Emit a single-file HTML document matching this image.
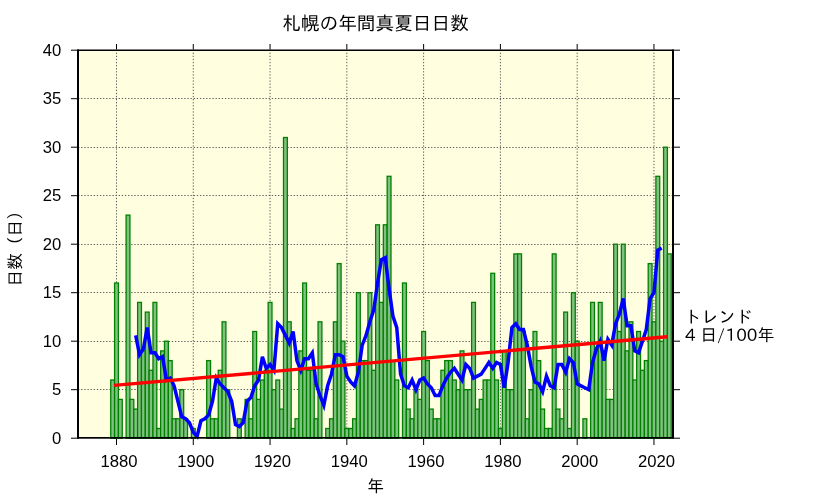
<!DOCTYPE html>
<html lang="ja"><head><meta charset="utf-8"><title>札幌の年間真夏日日数</title>
<style>html,body{margin:0;padding:0;background:#fff;width:833px;height:498px;overflow:hidden}svg{display:block;will-change:transform}</style>
</head><body>
<svg width="833" height="498" viewBox="0 0 833 498"><rect x="79" y="51" width="593" height="387" fill="#FFFFE0"/>
<path d="M78.1 389.5H672.9 M78.1 341.5H672.9 M78.1 292.5H672.9 M78.1 244.5H672.9 M78.1 195.5H672.9 M78.1 147.5H672.9 M78.1 98.5H672.9" stroke="#5a5a5a" stroke-width="1" stroke-dasharray="1.3 1.824" fill="none"/>
<path d="M116.5 49.56V438 M193.28 49.56V438 M270.06 49.56V438 M346.84 49.56V438 M423.62 49.56V438 M500.4 49.56V438 M577.18 49.56V438 M653.96 49.56V438" stroke="#5a5a5a" stroke-width="1" stroke-dasharray="1.3 1.789" fill="none"/>
<g fill="#80C080" stroke="#008000" stroke-width="1.3"><rect x="110.74" y="380" width="3.84" height="58.2"/><rect x="114.58" y="283" width="3.84" height="155.2"/><rect x="118.42" y="399.4" width="3.84" height="38.8"/><rect x="126.1" y="215.1" width="3.84" height="223.1"/><rect x="129.94" y="399.4" width="3.84" height="38.8"/><rect x="133.78" y="409.1" width="3.84" height="29.1"/><rect x="137.61" y="302.4" width="3.84" height="135.8"/><rect x="141.45" y="350.9" width="3.84" height="87.3"/><rect x="145.29" y="312.1" width="3.84" height="126.1"/><rect x="149.13" y="370.3" width="3.84" height="67.9"/><rect x="152.97" y="302.4" width="3.84" height="135.8"/><rect x="156.81" y="428.5" width="3.84" height="9.7"/><rect x="160.65" y="350.9" width="3.84" height="87.3"/><rect x="164.49" y="341.2" width="3.84" height="97"/><rect x="168.33" y="360.6" width="3.84" height="77.6"/><rect x="172.17" y="418.8" width="3.84" height="19.4"/><rect x="176" y="418.8" width="3.84" height="19.4"/><rect x="179.84" y="389.7" width="3.84" height="48.5"/><rect x="183.68" y="418.8" width="3.84" height="19.4"/><rect x="191.36" y="428.5" width="3.84" height="9.7"/><rect x="206.72" y="360.6" width="3.84" height="77.6"/><rect x="210.56" y="418.8" width="3.84" height="19.4"/><rect x="214.39" y="418.8" width="3.84" height="19.4"/><rect x="218.23" y="370.3" width="3.84" height="67.9"/><rect x="222.07" y="321.8" width="3.84" height="116.4"/><rect x="225.91" y="389.7" width="3.84" height="48.5"/><rect x="237.43" y="418.8" width="3.84" height="19.4"/><rect x="245.11" y="399.4" width="3.84" height="38.8"/><rect x="248.95" y="418.8" width="3.84" height="19.4"/><rect x="252.78" y="331.5" width="3.84" height="106.7"/><rect x="256.62" y="399.4" width="3.84" height="38.8"/><rect x="260.46" y="380" width="3.84" height="58.2"/><rect x="264.3" y="370.3" width="3.84" height="67.9"/><rect x="268.14" y="302.4" width="3.84" height="135.8"/><rect x="271.98" y="389.7" width="3.84" height="48.5"/><rect x="275.82" y="380" width="3.84" height="58.2"/><rect x="279.66" y="409.1" width="3.84" height="29.1"/><rect x="283.5" y="137.5" width="3.84" height="300.7"/><rect x="287.34" y="321.8" width="3.84" height="116.4"/><rect x="291.17" y="428.5" width="3.84" height="9.7"/><rect x="295.01" y="418.8" width="3.84" height="19.4"/><rect x="298.85" y="350.9" width="3.84" height="87.3"/><rect x="302.69" y="283" width="3.84" height="155.2"/><rect x="306.53" y="370.3" width="3.84" height="67.9"/><rect x="310.37" y="370.3" width="3.84" height="67.9"/><rect x="314.21" y="418.8" width="3.84" height="19.4"/><rect x="318.05" y="321.8" width="3.84" height="116.4"/><rect x="325.73" y="428.5" width="3.84" height="9.7"/><rect x="329.56" y="418.8" width="3.84" height="19.4"/><rect x="333.4" y="321.8" width="3.84" height="116.4"/><rect x="337.24" y="263.6" width="3.84" height="174.6"/><rect x="341.08" y="341.2" width="3.84" height="97"/><rect x="344.92" y="428.5" width="3.84" height="9.7"/><rect x="348.76" y="428.5" width="3.84" height="9.7"/><rect x="352.6" y="418.8" width="3.84" height="19.4"/><rect x="356.44" y="292.7" width="3.84" height="145.5"/><rect x="360.28" y="360.6" width="3.84" height="77.6"/><rect x="364.12" y="360.6" width="3.84" height="77.6"/><rect x="367.95" y="292.7" width="3.84" height="145.5"/><rect x="371.79" y="370.3" width="3.84" height="67.9"/><rect x="375.63" y="224.8" width="3.84" height="213.4"/><rect x="379.47" y="302.4" width="3.84" height="135.8"/><rect x="383.31" y="224.8" width="3.84" height="213.4"/><rect x="387.15" y="176.3" width="3.84" height="261.9"/><rect x="390.99" y="360.6" width="3.84" height="77.6"/><rect x="394.83" y="380" width="3.84" height="58.2"/><rect x="402.51" y="283" width="3.84" height="155.2"/><rect x="406.34" y="409.1" width="3.84" height="29.1"/><rect x="410.18" y="418.8" width="3.84" height="19.4"/><rect x="414.02" y="389.7" width="3.84" height="48.5"/><rect x="417.86" y="399.4" width="3.84" height="38.8"/><rect x="421.7" y="331.5" width="3.84" height="106.7"/><rect x="425.54" y="360.6" width="3.84" height="77.6"/><rect x="429.38" y="409.1" width="3.84" height="29.1"/><rect x="433.22" y="418.8" width="3.84" height="19.4"/><rect x="437.06" y="418.8" width="3.84" height="19.4"/><rect x="440.9" y="370.3" width="3.84" height="67.9"/><rect x="444.73" y="360.6" width="3.84" height="77.6"/><rect x="448.57" y="360.6" width="3.84" height="77.6"/><rect x="452.41" y="380" width="3.84" height="58.2"/><rect x="456.25" y="389.7" width="3.84" height="48.5"/><rect x="460.09" y="350.9" width="3.84" height="87.3"/><rect x="463.93" y="389.7" width="3.84" height="48.5"/><rect x="467.77" y="389.7" width="3.84" height="48.5"/><rect x="471.61" y="302.4" width="3.84" height="135.8"/><rect x="475.45" y="409.1" width="3.84" height="29.1"/><rect x="479.29" y="399.4" width="3.84" height="38.8"/><rect x="483.12" y="380" width="3.84" height="58.2"/><rect x="486.96" y="380" width="3.84" height="58.2"/><rect x="490.8" y="273.3" width="3.84" height="164.9"/><rect x="494.64" y="380" width="3.84" height="58.2"/><rect x="498.48" y="428.5" width="3.84" height="9.7"/><rect x="502.32" y="350.9" width="3.84" height="87.3"/><rect x="506.16" y="389.7" width="3.84" height="48.5"/><rect x="510" y="389.7" width="3.84" height="48.5"/><rect x="513.84" y="253.9" width="3.84" height="184.3"/><rect x="517.68" y="253.9" width="3.84" height="184.3"/><rect x="521.51" y="331.5" width="3.84" height="106.7"/><rect x="525.35" y="418.8" width="3.84" height="19.4"/><rect x="529.19" y="389.7" width="3.84" height="48.5"/><rect x="533.03" y="331.5" width="3.84" height="106.7"/><rect x="536.87" y="360.6" width="3.84" height="77.6"/><rect x="540.71" y="409.1" width="3.84" height="29.1"/><rect x="544.55" y="428.5" width="3.84" height="9.7"/><rect x="548.39" y="428.5" width="3.84" height="9.7"/><rect x="552.23" y="253.9" width="3.84" height="184.3"/><rect x="556.07" y="409.1" width="3.84" height="29.1"/><rect x="559.9" y="418.8" width="3.84" height="19.4"/><rect x="563.74" y="312.1" width="3.84" height="126.1"/><rect x="567.58" y="428.5" width="3.84" height="9.7"/><rect x="571.42" y="292.7" width="3.84" height="145.5"/><rect x="575.26" y="341.2" width="3.84" height="97"/><rect x="582.94" y="418.8" width="3.84" height="19.4"/><rect x="590.62" y="302.4" width="3.84" height="135.8"/><rect x="594.46" y="350.9" width="3.84" height="87.3"/><rect x="598.29" y="302.4" width="3.84" height="135.8"/><rect x="602.13" y="350.9" width="3.84" height="87.3"/><rect x="605.97" y="399.4" width="3.84" height="38.8"/><rect x="609.81" y="399.4" width="3.84" height="38.8"/><rect x="613.65" y="244.2" width="3.84" height="194"/><rect x="617.49" y="331.5" width="3.84" height="106.7"/><rect x="621.33" y="244.2" width="3.84" height="194"/><rect x="625.17" y="350.9" width="3.84" height="87.3"/><rect x="629.01" y="321.8" width="3.84" height="116.4"/><rect x="632.85" y="380" width="3.84" height="58.2"/><rect x="636.68" y="331.5" width="3.84" height="106.7"/><rect x="640.52" y="370.3" width="3.84" height="67.9"/><rect x="644.36" y="360.6" width="3.84" height="77.6"/><rect x="648.2" y="263.6" width="3.84" height="174.6"/><rect x="652.04" y="321.8" width="3.84" height="116.4"/><rect x="655.88" y="176.3" width="3.84" height="261.9"/><rect x="659.72" y="341.2" width="3.84" height="97"/><rect x="663.56" y="147.2" width="3.84" height="291"/><rect x="667.4" y="253.9" width="3.84" height="184.3"/></g>
<polyline points="135.69,335.38 139.53,354.78 143.37,348.96 147.21,327.62 151.05,352.84 154.89,352.84 158.73,358.66 162.57,356.72 166.41,380 170.25,378.06 174.09,385.82 177.92,401.34 181.76,416.86 185.6,418.8 189.44,422.68 193.28,432.38 197.12,436.26 200.96,420.74 204.8,418.8 208.64,414.92 212.47,401.34 216.31,378.06 220.15,383.88 223.99,387.76 227.83,391.64 231.67,401.34 235.51,424.62 239.35,426.56 243.19,422.68 247.03,401.34 250.87,397.46 254.7,385.82 258.54,380 262.38,356.72 266.22,368.36 270.06,364.48 273.9,370.3 277.74,323.74 281.58,327.62 285.42,335.38 289.25,343.14 293.09,331.5 296.93,360.6 300.77,370.3 304.61,358.66 308.45,358.66 312.29,352.84 316.13,383.88 319.97,395.52 323.81,405.22 327.64,385.82 331.48,374.18 335.32,354.78 339.16,354.78 343,356.72 346.84,376.12 350.68,381.94 354.52,385.82 358.36,372.24 362.2,345.08 366.03,335.38 369.87,321.8 373.71,310.16 377.55,283 381.39,259.72 385.23,257.78 389.07,288.82 392.91,315.98 396.75,327.62 400.59,374.18 404.43,385.82 408.26,387.76 412.1,380 415.94,389.7 419.78,380 423.62,378.06 427.46,383.88 431.3,387.76 435.14,395.52 438.98,395.52 442.81,385.82 446.65,378.06 450.49,372.24 454.33,368.36 458.17,374.18 462.01,380 465.85,364.48 469.69,368.36 473.53,378.06 477.37,376.12 481.2,374.18 485.04,368.36 488.88,362.54 492.72,368.36 496.56,362.54 500.4,364.48 504.24,387.76 508.08,362.54 511.92,327.62 515.76,323.74 519.6,329.56 523.43,329.56 527.27,345.08 531.11,366.42 534.95,381.94 538.79,383.88 542.63,391.64 546.47,376.12 550.31,385.82 554.15,387.76 557.99,364.48 561.82,364.48 565.66,372.24 569.5,358.66 573.34,362.54 577.18,383.88 581.02,385.82 584.86,387.76 588.7,389.7 592.54,362.54 596.38,348.96 600.21,341.2 604.05,360.6 607.89,339.26 611.73,345.08 615.57,323.74 619.41,314.04 623.25,298.52 627.09,325.68 630.93,325.68 634.76,350.9 638.6,352.84 642.44,341.2 646.28,329.56 650.12,298.52 653.96,292.7 657.8,250.02 661.64,248.08" fill="none" stroke="#0000FF" stroke-width="3.5" stroke-linejoin="miter"/>
<line x1="114" y1="385.4" x2="667.3" y2="336.8" stroke="#FF0000" stroke-width="3.4"/>
<g fill="#000"><rect x="77" y="49.5" width="597" height="1.5"/><rect x="77" y="437" width="597" height="1.7"/><rect x="77" y="49.5" width="2" height="389.2"/><rect x="672" y="49.5" width="2" height="389.2"/></g>
<path d="M71 438.2H77M674 438.2H680M71 389.7H77M674 389.7H680M71 341.2H77M674 341.2H680M71 292.7H77M674 292.7H680M71 244.2H77M674 244.2H680M71 195.7H77M674 195.7H680M71 147.2H77M674 147.2H680M71 98.7H77M674 98.7H680M71 50.2H77M674 50.2H680M116.5 44V49.5M116.5 438.7V445M193.28 44V49.5M193.28 438.7V445M270.06 44V49.5M270.06 438.7V445M346.84 44V49.5M346.84 438.7V445M423.62 44V49.5M423.62 438.7V445M500.4 44V49.5M500.4 438.7V445M577.18 44V49.5M577.18 438.7V445M653.96 44V49.5M653.96 438.7V445" stroke="#000" stroke-width="1" fill="none"/>
<g font-family="'Liberation Sans', Arial, sans-serif" font-size="16.67" fill="#000"><text x="61.2" y="443.7" text-anchor="end">0</text><text x="61.2" y="395.2" text-anchor="end">5</text><text x="61.2" y="346.7" text-anchor="end">10</text><text x="61.2" y="298.2" text-anchor="end">15</text><text x="61.2" y="249.7" text-anchor="end">20</text><text x="61.2" y="201.2" text-anchor="end">25</text><text x="61.2" y="152.7" text-anchor="end">30</text><text x="61.2" y="104.2" text-anchor="end">35</text><text x="61.2" y="55.7" text-anchor="end">40</text><text x="119" y="466.7" text-anchor="middle">1880</text><text x="195.78" y="466.7" text-anchor="middle">1900</text><text x="272.56" y="466.7" text-anchor="middle">1920</text><text x="349.34" y="466.7" text-anchor="middle">1940</text><text x="426.12" y="466.7" text-anchor="middle">1960</text><text x="502.9" y="466.7" text-anchor="middle">1980</text><text x="579.68" y="466.7" text-anchor="middle">2000</text><text x="656.46" y="466.7" text-anchor="middle">2020</text></g>
<text x="375.5" y="29.8" text-anchor="middle" font-size="18.67" font-family="'Liberation Sans','IPAGothic','Noto Sans CJK JP',sans-serif">札幌の年間真夏日日数</text>
<text x="375.5" y="491.7" text-anchor="middle" font-size="16.67" font-family="'Liberation Sans','IPAGothic','Noto Sans CJK JP',sans-serif">年</text>
<text transform="translate(21,244.8) rotate(-90)" text-anchor="middle" font-size="16.67" font-family="'Liberation Sans','IPAGothic','Noto Sans CJK JP',sans-serif">日数（日）</text>
<text x="684.6" y="322.6" font-size="17" font-family="'Liberation Sans','IPAGothic','Noto Sans CJK JP',sans-serif">トレンド</text>
<text x="685" y="341" font-size="16.9" font-family="'Liberation Sans','IPAGothic','Noto Sans CJK JP',sans-serif"><tspan font-family="'IPAPGothic','DejaVu Sans',sans-serif">4 </tspan>日<tspan font-family="'IPAPGothic','DejaVu Sans',sans-serif">/100</tspan>年</text></svg>
</body></html>
